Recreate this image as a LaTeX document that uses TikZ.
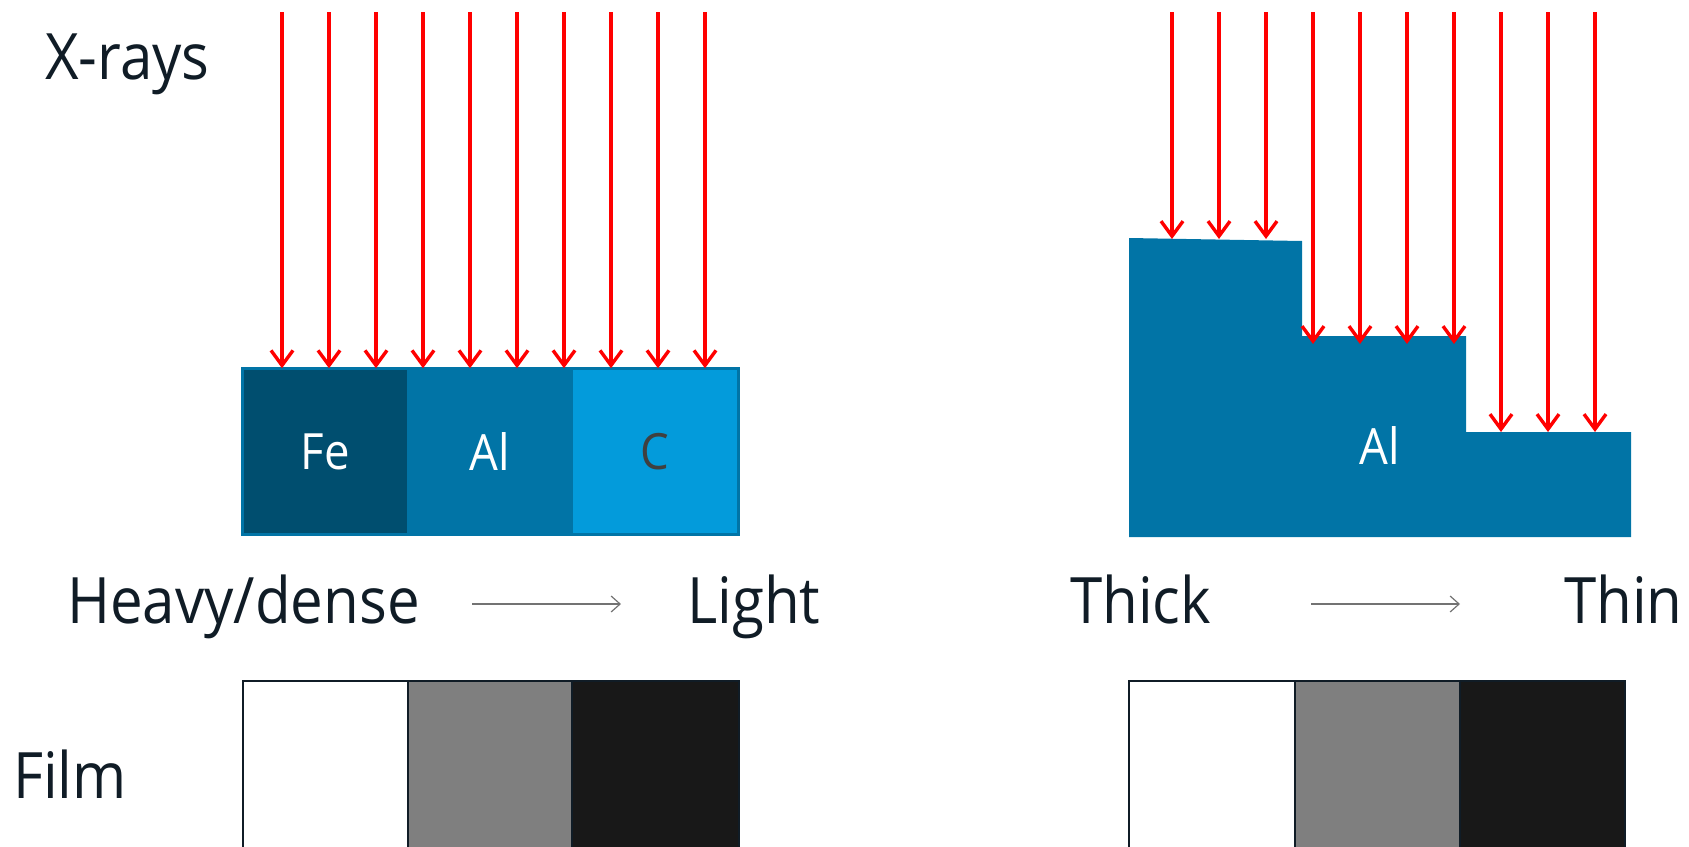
\documentclass[tikz,border=0pt]{standalone}
\usepackage{fontspec}
\setmainfont{Open Sans}[FakeStretch=0.91]
\usetikzlibrary{arrows.meta}
\definecolor{ink}{HTML}{101C26}
\definecolor{feblue}{HTML}{004E6F}
\definecolor{alblue}{HTML}{0174A6}
\definecolor{cblue}{HTML}{039BDB}
\definecolor{cgray}{HTML}{404040}
\definecolor{xred}{HTML}{FF0000}
\definecolor{filmgray}{HTML}{7F7F7F}
\definecolor{filmblack}{HTML}{181818}
\tikzset{
  ray/.style={draw=xred, line width=3.4pt, -{Straight Barb[length=15pt,width=22pt,line width=3.4pt]}},
  label/.style={anchor=base west, inner sep=0pt, text=ink, font=\fontsize{64}{64}\selectfont},
  elem/.style={draw=alblue, line width=1.5pt, minimum height=165pt, inner sep=0pt, font=\fontsize{50}{50}\selectfont},
  filmcell/.style={draw=ink, line width=2pt},
  dirarrow/.style={draw=gray!90!black, line width=1.2pt, -{Straight Barb[length=9pt,width=16pt,line width=1.2pt]}}
}
\begin{document}
\begin{tikzpicture}[x=1pt,y=-1pt]
\useasboundingbox (0,0) rectangle (1689,846);

% labels
\node[label] (xrays) at (45,79) {X-rays};
\node[label] (heavy) at (67,623) {Heavy/dense};
\node[label] (light) at (687,623) {Light};
\node[label] (thick) at (1070,623) {Thick};
\node[label] (thin) at (1564,623) {Thin};
\node[label] (film) at (13,798) {Film};

% left block
\node[elem, fill=feblue, minimum width=165pt, text=white] (fe) at (325.5,451.5) {Fe};
\node[elem, fill=alblue, minimum width=164pt, text=white] (al) at (490,451.5) {Al};
\node[elem, fill=cblue, minimum width=166pt, text=cgray] (c) at (655,451.5) {C};
\draw[alblue, line width=2pt] (fe.north west) rectangle (c.south east);

% left rays
\foreach \i in {0,...,9} {
  \coordinate (ls\i) at ({282+47*\i},12);
  \draw[ray] (ls\i) -- (ls\i |- fe.north);
}

% right Al step block
\coordinate (r1) at (1129,238);
\coordinate (r2) at (1302,241);
\coordinate (r3) at (1302,336);
\coordinate (r4) at (1466,336);
\coordinate (r5) at (1466,432);
\coordinate (r6) at (1631,432);
\coordinate (r7) at (1631,537);
\coordinate (r8) at (1129,537);
\fill[alblue] (r1) -- (r2) -- (r3) -- (r4) -- (r5) -- (r6) -- (r7) -- (r8) -- cycle;
\node[inner sep=0pt, text=white, font=\fontsize{50}{50}\selectfont] (alr) at (1380,445) {Al};

% right rays
\foreach \i in {0,...,9} {
  \coordinate (rs\i) at ({1172+47*\i},12);
}
\foreach \i in {0,1,2} {
  \coordinate (re\i) at ({1172+47*\i},239);
  \draw[ray] (rs\i) -- (re\i);
}
\foreach \i in {3,...,6} {
  \coordinate (re\i) at ({1172+47*\i},344);
  \draw[ray] (rs\i) -- (re\i);
}
\foreach \i in {7,8,9} {
  \coordinate (re\i) at ({1172+47*\i},432);
  \draw[ray] (rs\i) -- (re\i);
}

% direction arrows
\coordinate (la1) at (472,604);
\coordinate (la2) at (621,604);
\draw[dirarrow] (la1) -- (la2);
\coordinate (ra1) at (1311,604);
\coordinate (ra2) at (1460,604);
\draw[dirarrow] (ra1) -- (ra2);

% films
\draw[filmcell, fill=white] (243,681) rectangle (408,850);
\draw[filmcell, fill=filmgray] (408,681) rectangle (572,850);
\draw[filmcell, fill=filmblack] (572,681) rectangle (739,850);
\draw[filmcell, fill=white] (1129,681) rectangle (1295,850);
\draw[filmcell, fill=filmgray] (1295,681) rectangle (1460,850);
\draw[filmcell, fill=filmblack] (1460,681) rectangle (1625,850);
\end{tikzpicture}
\end{document}
